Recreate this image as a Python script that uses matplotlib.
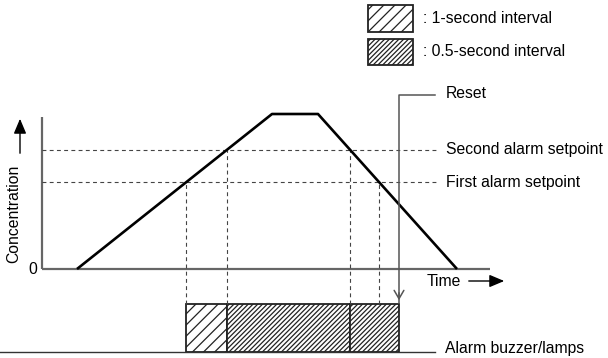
import numpy as np
import matplotlib
matplotlib.use("Agg")
import matplotlib.pyplot as plt
from matplotlib.patches import Rectangle

plt.rcParams["font.family"] = ["Liberation Sans", "DejaVu Sans"]
plt.rcParams["hatch.linewidth"] = 0.9

# gas concentration trace (time in s, concentration in % of peak)
trace_t = [3.5, 23.0, 27.6, 41.5]
trace_c = [0, 100, 100, 0]
first_setpoint = 56
second_setpoint = 77
reset_t = 35.7

labels_right = ["Second alarm setpoint", "First alarm setpoint"]
legend_labels = [": 1-second interval", ": 0.5-second interval"]

# crossing times on the rising / falling edges
t_first_on = np.interp(first_setpoint, trace_c[:2], trace_t[:2])
t_second_on = np.interp(second_setpoint, trace_c[:2], trace_t[:2])
t_second_off = np.interp(second_setpoint, trace_c[3:1:-1], trace_t[3:1:-1])
t_first_off = np.interp(first_setpoint, trace_c[3:1:-1], trace_t[3:1:-1])

# layout helpers: pixel position -> data units
def X(px):
    return (px - 42) / 10.0

def Y(py):
    return (269 - py) / 1.55

fig = plt.figure(figsize=(6.08, 3.58), dpi=100)
ax = fig.add_axes([0, 0, 1, 1])
ax.set_xlim(X(0), X(608))
ax.set_ylim(Y(358), Y(0))
ax.axis("off")

axis_col = "#666666"
dash_col = "#444444"
fs = 11.3
sparse, dense = "///", "///////"

# axes
ax.plot([0, 0], [0, Y(117)], color=axis_col, lw=1.6, solid_capstyle="butt")
ax.plot([0, X(490)], [0, 0], color=axis_col, lw=1.6, solid_capstyle="butt")
ax.text(X(37), 0, "0", ha="right", va="center", fontsize=fs)

# setpoint lines
for c, lab in zip([second_setpoint, first_setpoint], labels_right):
    ax.plot([0, X(437)], [c, c], color=dash_col, lw=0.8, ls=(0, (3.5, 3)))
    ax.text(X(446), c, lab, ha="left", va="center", fontsize=fs)

# vertical dashed drops from the setpoint crossings
for t, c in [(t_first_on, first_setpoint), (t_second_on, second_setpoint),
             (t_second_off, second_setpoint), (t_first_off, first_setpoint)]:
    ax.plot([t, t], [Y(304), c], color=dash_col, lw=0.8, ls=(0, (3.5, 3)))

# concentration trace
ax.plot(trace_t, trace_c, color="black", lw=1.9, solid_capstyle="butt")

# axis labels with arrows
ax.text(X(14), Y(214), "Concentration", rotation=90, ha="center", va="center", fontsize=fs)
ax.annotate("", xy=(X(20), Y(116)), xytext=(X(20), Y(156)),
            arrowprops=dict(arrowstyle="-|>,head_length=0.9,head_width=0.38", color="black", lw=1.0))
ax.text(X(427), Y(281), "Time", ha="left", va="center", fontsize=fs)
ax.annotate("", xy=(X(507), Y(281)), xytext=(X(466), Y(281)),
            arrowprops=dict(arrowstyle="-|>,head_length=0.9,head_width=0.38", color="black", lw=1.0))

# alarm output bar
bar_lo, bar_hi = Y(352), Y(304)
ax.plot([X(0), X(435)], [bar_lo, bar_lo], color="#333333", lw=1.0)
segments = [(t_first_on, t_second_on, sparse), (t_second_on, t_second_off, dense),
            (t_second_off, reset_t, dense)]
for t0, t1, h in segments:
    ax.add_patch(Rectangle((t0, bar_lo), t1 - t0, bar_hi - bar_lo, facecolor="white",
                           edgecolor="#222222", hatch=h, lw=1.3))
ax.text(X(445), Y(348), "Alarm buzzer/lamps", ha="left", va="center", fontsize=fs)

# reset marker
ax.plot([X(435), reset_t, reset_t], [Y(95), Y(95), Y(303)], color="#555555", lw=1.1)
ax.annotate("", xy=(reset_t, Y(303)), xytext=(reset_t, Y(290)),
            arrowprops=dict(arrowstyle="->,head_length=0.6,head_width=0.35", color="#555555", lw=1.1))
ax.text(X(446), Y(93), "Reset", ha="left", va="center", fontsize=fs)

# legend boxes
for (top, bot), h, lab in zip([(5, 32), (39, 65)], [sparse, dense], legend_labels):
    ax.add_patch(Rectangle((X(368), Y(bot)), X(413) - X(368), Y(top) - Y(bot),
                           facecolor="white", edgecolor="#222222", hatch=h, lw=1.3))
    ax.text(X(423), Y((top + bot) / 2), lab, ha="left", va="center", fontsize=fs)

fig.savefig("out.png", dpi=100)
